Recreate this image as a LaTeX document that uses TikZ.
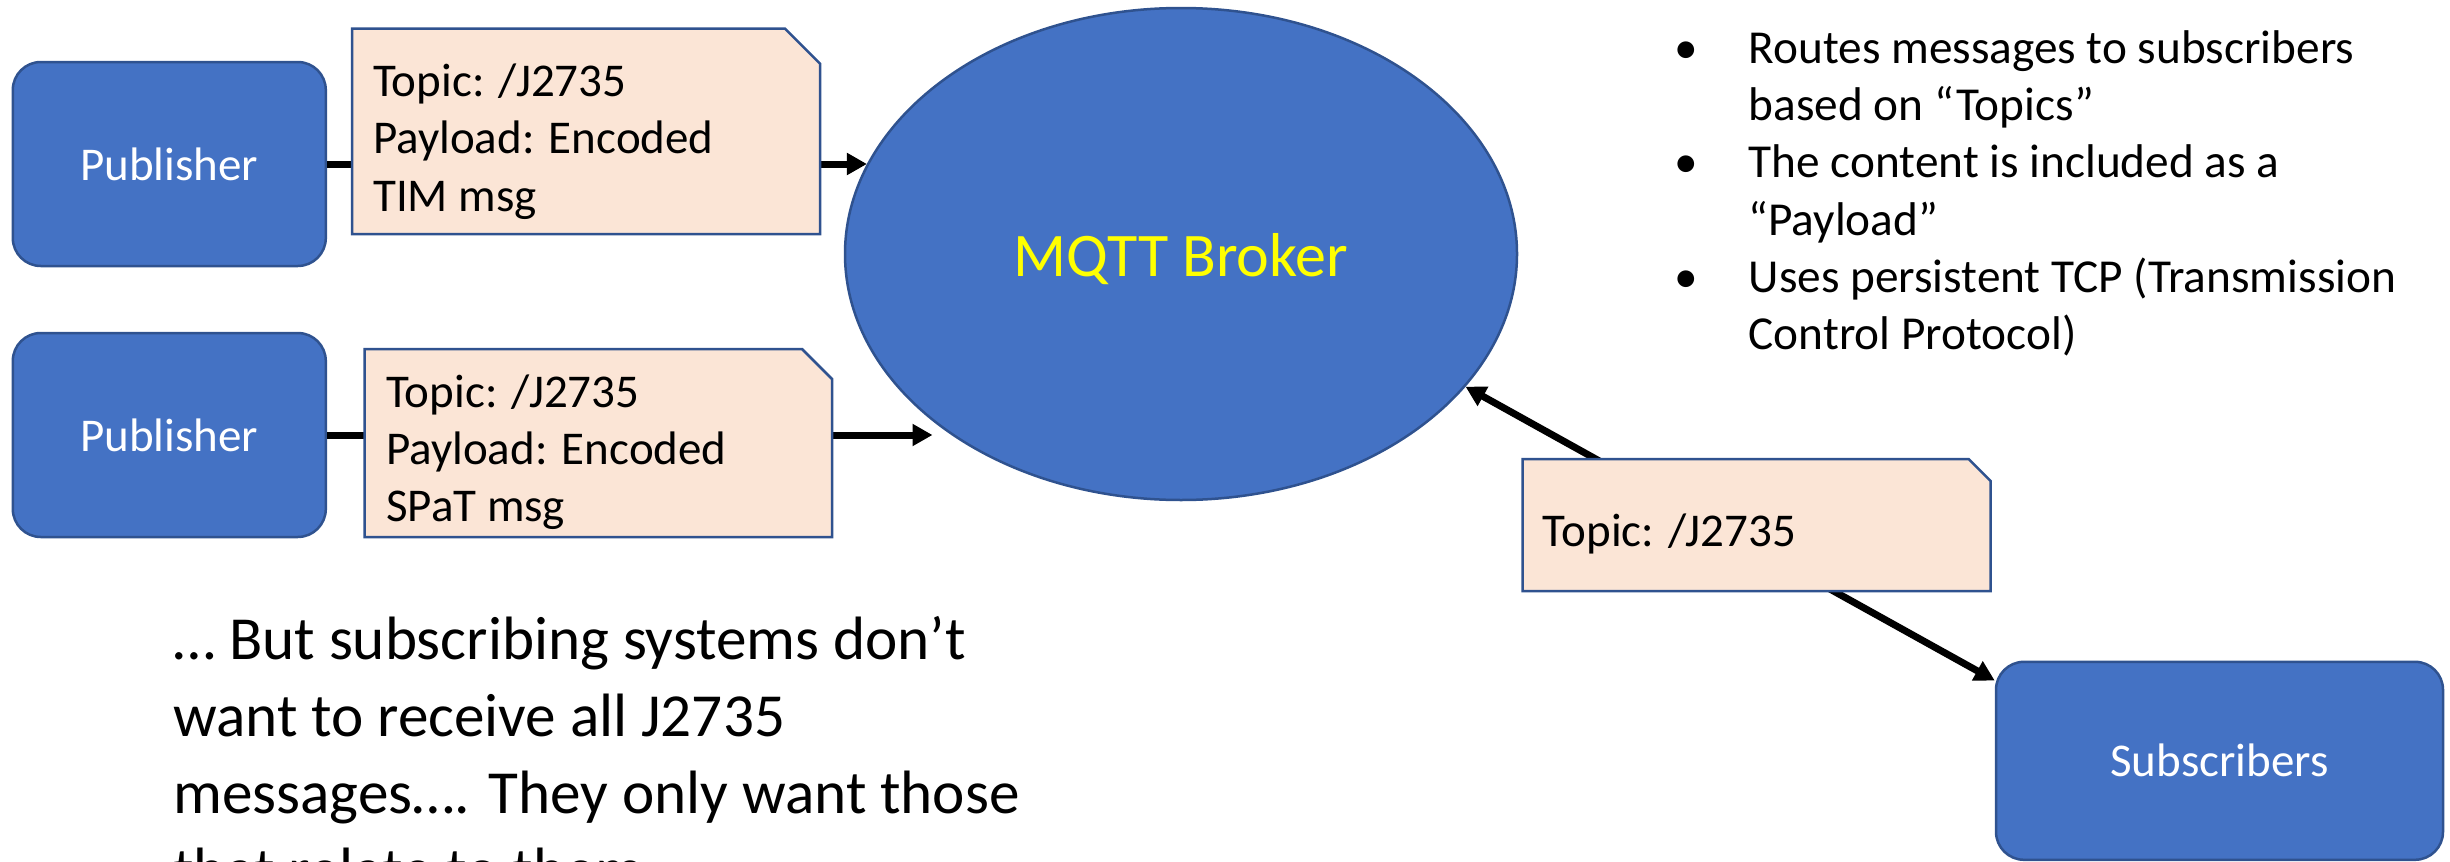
\documentclass[tikz,border=0pt]{standalone}
\usepackage{fontspec}
\setmainfont{Carlito}
\usetikzlibrary{arrows.meta,shapes.geometric}

\definecolor{boxblue}{HTML}{4472C4}
\definecolor{edgeblue}{HTML}{2F528F}
\definecolor{notefill}{HTML}{FBE5D6}
\definecolor{brokertext}{HTML}{FFFF00}

\tikzset{
  actor/.style={draw=edgeblue, line width=2.5pt, fill=boxblue, rounded corners=28pt,
    text=white, inner sep=0pt, font=\fontsize{47}{57.4}\selectfont},
  noteframe/.style={inner sep=0pt, outer sep=0pt, anchor=north west},
  notebody/.style={draw=edgeblue, line width=2.5pt, fill=notefill, line join=miter},
  notetext/.style={anchor=base west, inner sep=0pt, font=\fontsize{47}{57.4}\selectfont},
  flow/.style={line width=7pt, -{Triangle[length=20pt,width=21pt]}},
  bothflow/.style={line width=7pt, {Triangle[length=20pt,width=21pt]}-{Triangle[length=20pt,width=21pt]}},
}

\begin{document}
\begin{tikzpicture}[x=1pt, y=-1pt]
\useasboundingbox (0,0) rectangle (2450,862);
\clip (0,0) rectangle (2450,862);

% clients and broker
\node[actor, minimum width=313pt, minimum height=204pt] (pub1) at (169.3,164) {Publisher};
\node[actor, minimum width=313pt, minimum height=204pt] (pub2) at (169.3,435) {Publisher};
\node[actor, minimum width=447pt, minimum height=198pt] (sub) at (2219.5,760.8) {Subscribers};
\node[ellipse, draw=edgeblue, line width=2.5pt, fill=boxblue, minimum width=672pt,
  minimum height=492pt, inner sep=0pt, text=brokertext, text height=52pt, text depth=8pt,
  font=\fontsize{62}{74}\selectfont] (broker) at (1181,254) {MQTT Broker};

% frames of the message notes
\node[noteframe, minimum width=468pt, minimum height=205.4pt] (n1) at (352,28.6) {};
\node[noteframe, minimum width=467.5pt, minimum height=188pt] (n2) at (364.5,349) {};
\node[noteframe, minimum width=468pt, minimum height=132pt] (n3) at (1522.7,459) {};
\coordinate (bkin2) at (932.5,435);

% message flows
\draw[flow] (pub1.east) -- (pub1.east -| broker.164);
\draw[flow] (pub2.east) -- (bkin2);
\draw[bothflow] (broker.-25.2) -- ([yshift=-20pt]sub.north west);

% notes with a cut corner
\draw[notebody] (n1.south west) -- (n1.north west) -- ([xshift=-35pt]n1.north east)
  -- ([yshift=-35pt]n1.north east) -- (n1.south east) -- cycle;
\draw[notebody] (n2.south west) -- (n2.north west) -- ([xshift=-30pt]n2.north east)
  -- ([yshift=-30pt]n2.north east) -- (n2.south east) -- cycle;
\draw[notebody] (n3.south west) -- (n3.north west) -- ([xshift=-22pt]n3.north east)
  -- ([yshift=-22pt]n3.north east) -- (n3.south east) -- cycle;

\node[notetext] (t1) at (373,96.4)
  {\begin{tabular}[t]{@{}l@{}}Topic: /J2735\\Payload: Encoded\\TIM msg\end{tabular}};
\node[notetext] (t2) at (386,407)
  {\begin{tabular}[t]{@{}l@{}}Topic: /J2735\\Payload: Encoded\\SPaT msg\end{tabular}};
\node[notetext] (t3) at (1542.7,546) {Topic: /J2735};

% explanatory text
\node[anchor=base west, inner sep=0pt, font=\fontsize{47.3}{57.3}\selectfont] (facts) at (1674,63.3)
  {\begin{tabular}[t]{@{}p{74.5pt}@{}l@{}}
   •&Routes messages to subscribers\\
    &based on “Topics”\\
   •&The content is included as a\\
    &“Payload”\\
   •&Uses persistent TCP (Transmission\\
    &Control Protocol)
  \end{tabular}};

\node[anchor=base west, inner sep=0pt, font=\fontsize{61.2}{77}\selectfont] (remark) at (173,659.3)
  {\begin{tabular}[t]{@{}l@{}}
   … But subscribing systems don’t\\
   want to receive all J2735\\
   messages…. They only want those\\
   that relate to them
  \end{tabular}};
\end{tikzpicture}
\end{document}
